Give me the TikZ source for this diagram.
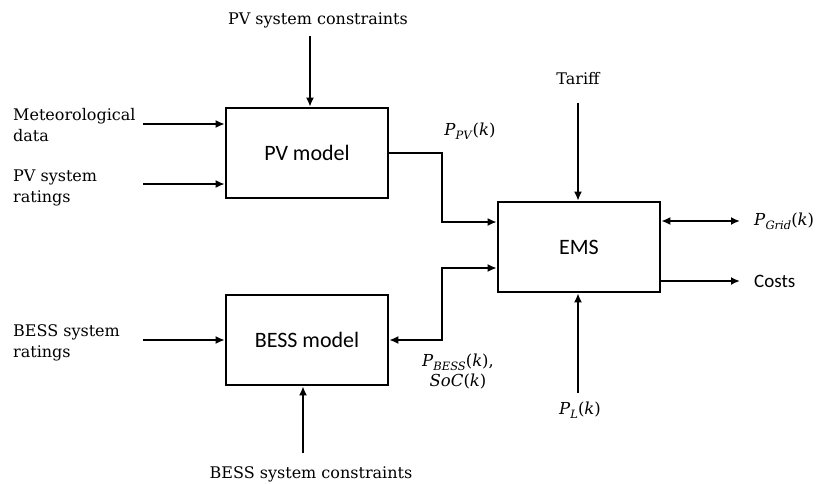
\documentclass[tikz,border=0pt]{standalone}
\usepackage{fontspec}
\setmainfont{DejaVu Serif}
\newfontfamily\boxfont{Carlito}
\usetikzlibrary{arrows.meta}
% signal names, italic like the reference
\newcommand{\sigk}[2]{\textit{#1}\raisebox{-0.45ex}{\fontsize{11.5}{12}\selectfont\textit{#2}}(\textit{k})}

\begin{document}
\begin{tikzpicture}[x=1pt,y=-1pt,
  block/.style={draw,line width=2.6pt,minimum width=162pt,minimum height=90pt,
    font=\boxfont\fontsize{22}{26}\selectfont},
  lbl/.style={font=\fontsize{16}{21}\selectfont,align=left,inner sep=0pt},
  sig/.style={font=\fontsize{16.5}{20}\selectfont,align=center,inner sep=0pt},
  flow/.style={line width=1.8pt,-{Latex[length=9pt,width=8pt]}},
  bflow/.style={line width=1.8pt,{Latex[length=9pt,width=8pt]}-{Latex[length=9pt,width=8pt]}}]
  \useasboundingbox (0,0) rectangle (822,483);
  % blocks
  \node[block] (pv) at (307,153) {PV model};
  \node[block] (bess) at (307,340) {BESS model};
  \node[block] (ems) at (579,247) {EMS};
  % inputs of the PV model
  \node[lbl,anchor=west] (met) at (13,125) {Meteorological\\data};
  \node[lbl,anchor=west] (pvrat) at (13,188) {PV system\\ratings};
  \node[lbl] (pvcon) at (318,20) {PV system constraints};
  \coordinate (metin) at (143,124);
  \coordinate (pvratin) at (143,184);
  \coordinate (pvconin) at (310,36);
  \draw[flow] (metin) -- (metin -| pv.west);
  \draw[flow] (pvratin) -- (pvratin -| pv.west);
  \draw[flow] (pvconin) -- (pvconin |- pv.north);
  % inputs of the BESS model
  \node[lbl,anchor=west] (bessrat) at (13,343) {BESS system\\ratings};
  \node[lbl] (besscon) at (311,474) {BESS system constraints};
  \coordinate (bessratin) at (143,340);
  \coordinate (bessconin) at (303,453);
  \draw[flow] (bessratin) -- (bessratin -| bess.west);
  \draw[flow] (bessconin) -- (bessconin |- bess.south);
  % links to the EMS
  \coordinate (pvjog) at (442,153);
  \coordinate (essjog) at (442,268);
  \draw[flow] (pv.east) -- (pvjog) |- ([yshift=25pt]ems.west);
  \draw[bflow] (bess.east) -| (essjog) -- (essjog -| ems.west);
  \node[sig] (ppv) at (470,131) {\sigk{P}{PV}};
  \node[sig] (pbess) at (458,372) {\sigk{P}{BESS},\\\textit{SoC}(\textit{k})};
  % tariff and load
  \node[lbl] (tariff) at (578,79) {Tariff};
  \coordinate (tariffin) at (578,103);
  \draw[flow] (tariffin) -- (tariffin |- ems.north);
  \node[sig] (pl) at (580,410) {\sigk{P}{L}};
  \coordinate (plin) at (578,393);
  \draw[flow] (plin) -- (plin |- ems.south);
  % outputs of the EMS
  \coordinate (gridout) at (740,221);
  \coordinate (costout) at (740,281);
  \draw[bflow] (gridout -| ems.east) -- (gridout);
  \draw[flow] (costout -| ems.east) -- (costout);
  \node[sig,anchor=west] (pgrid) at (754,221) {\sigk{P}{Grid}};
  \node[anchor=west,inner sep=0pt,font=\boxfont\fontsize{19}{22}\selectfont] (costs) at (754,281) {Costs};
\end{tikzpicture}
\end{document}
